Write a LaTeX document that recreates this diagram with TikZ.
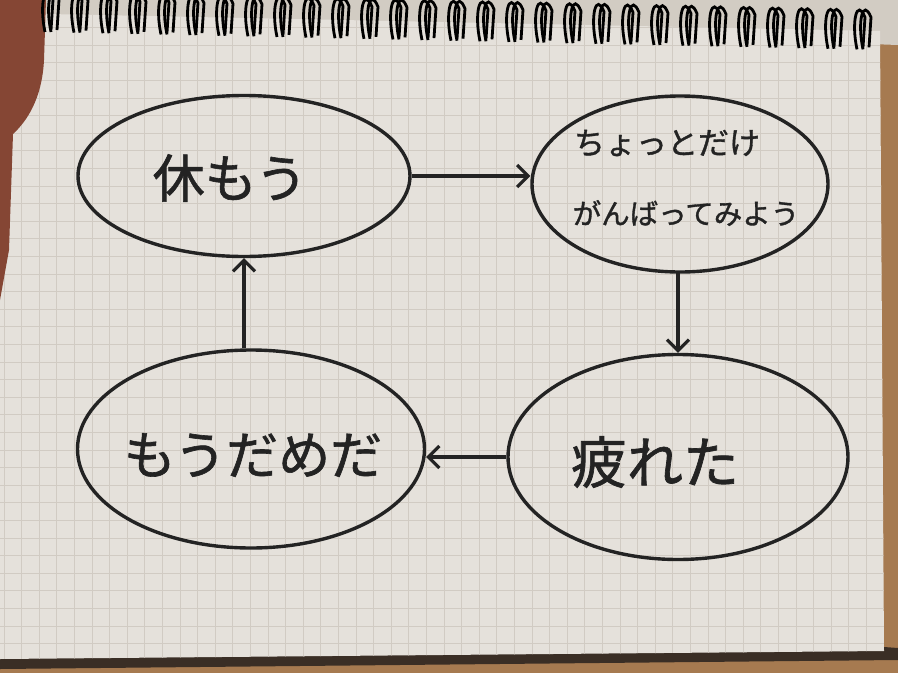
\documentclass[tikz,border=0pt]{standalone}
\usepackage{fontspec}
\newfontfamily\jp[FakeBold=1.2]{Noto Sans CJK JP}
\usetikzlibrary{shapes.geometric,arrows.meta}
\definecolor{paper}{HTML}{E5E1DB}
\definecolor{gridc}{HTML}{D1CBC3}
\definecolor{ink}{HTML}{232323}
\definecolor{wood}{HTML}{A67A50}
\definecolor{skin}{HTML}{854634}
\definecolor{topbg}{HTML}{D2CCC3}
\definecolor{shadowc}{HTML}{3A2E25}
\begin{document}
\begin{tikzpicture}[x=1pt,y=-1pt,
  bubble/.style={draw=ink, line width=3.4pt, ellipse, inner sep=0pt},
  txt/.style={text=ink, inner sep=0pt},
  flow/.style={draw=ink, line width=3.2pt, -{Straight Barb[length=11pt,width=22pt]}},
  spiral/.style={draw=black, line width=2.8pt}]
\useasboundingbox (0,0) rectangle (898,673);
% background
\fill[wood] (0,0) rectangle (898,673);
\fill[topbg] (30,0) -- (898,0) -- (898,45) -- (30,14) -- cycle;
% shadow under paper
\fill[shadowc] (0,655) -- (884,647) -- (898,648) -- (898,660) -- (0,669) -- cycle;
% paper
\fill[paper] (0,13) -- (880,31) -- (884,651) -- (0,659) -- cycle;
\begin{scope}
  \clip (0,13) -- (880,31) -- (884,651) -- (0,659) -- cycle;
  \foreach \i in {0,...,50}{
    \draw[gridc, line width=0.8pt] (\i*17.6+4,0) -- (\i*17.6+4,673);
  }
  \foreach \i in {0,...,40}{
    \draw[gridc, line width=0.8pt] (0,\i*17.6+10) -- (898,\i*17.6+10);
  }
\end{scope}
% hand
\fill[skin] (0,0) -- (46,0) -- (44,60) .. controls (42,100) and (26,122) .. (13,134) -- (9,250) -- (0,300) -- cycle;
% spirals
\foreach \i in {0,...,28}{
  \pgfmathsetmacro{\sx}{49+29*\i}
  \pgfmathsetmacro{\sy}{32+0.62*\i}
  \draw[spiral] (\sx-4,\sy) .. controls (\sx-10,\sy-28) and (\sx-4,\sy-52) .. (\sx+4,\sy-32) -- (\sx+2,\sy-2);
  \draw[spiral] (\sx+2,\sy) .. controls (\sx-4,\sy-28) and (\sx+2,\sy-52) .. (\sx+10,\sy-32) -- (\sx+8,\sy-2);
}
% bubbles
\node[bubble, minimum width=332pt, minimum height=161pt] (e1) at (244,176) {};
\node[bubble, minimum width=296pt, minimum height=176pt] (e2) at (680,184) {};
\node[bubble, minimum width=340pt, minimum height=205pt] (e3) at (678,457) {};
\node[bubble, minimum width=347pt, minimum height=198pt] (e4) at (251,449) {};
% texts
\node[txt, font=\jp\fontsize{52}{58}\selectfont] (t1) at (230,178) {休もう};
\node[txt, font=\jp\fontsize{31}{36}\selectfont] (t2a) at (667,143) {ちょっとだけ};
\node[txt, font=\jp\fontsize{28.5}{34}\selectfont] (t2b) at (686,213) {がんばってみよう};
\node[txt, font=\jp\fontsize{56}{62}\selectfont] (t3) at (655,462) {疲れた};
\node[txt, font=\jp\fontsize{52}{58}\selectfont] (t4) at (253,455) {もうだめだ};
% connectors
\draw[flow] (e1.east) -- (e1.east -| e2.west);
\draw[flow] (e2.south) -- (e2.south -| e3.north) -- (e3.north);
\draw[flow] (e3.west) -- (e3.west -| e4.east);
\draw[flow] (e4.north -| e1.south) -- (e1.south);
\end{tikzpicture}
\end{document}
